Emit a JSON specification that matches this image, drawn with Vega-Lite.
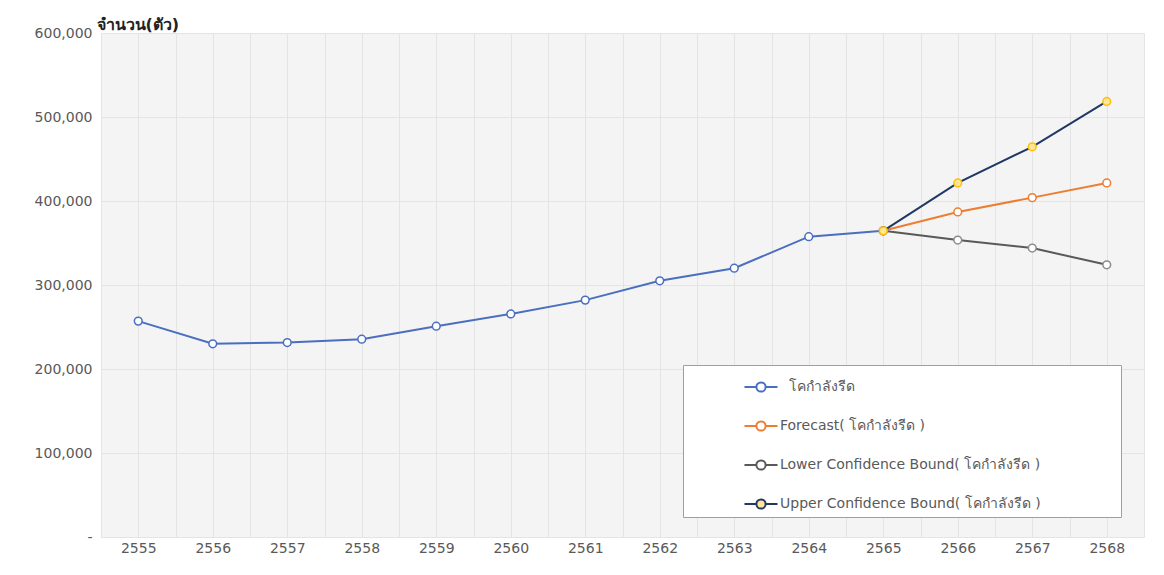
{
  "$schema": "https://vega.github.io/schema/vega-lite/v6.json",
  "autosize": "none",
  "width": 1043,
  "height": 504,
  "padding": {"left": 101, "top": 33, "right": 20, "bottom": 38},
  "background": "white",
  "config": {
    "font": "DejaVu Sans",
    "view": {"fill": "#f4f4f4", "stroke": null},
    "axis": {"labelColor": "#595959", "labelFontSize": 14, "gridColor": "#e4e4e4", "gridWidth": 1, "domain": false, "ticks": false}
  },
  "data": {
    "values": [
      {"series": "โคกำลังรีด", "year": 2555, "value": 257000},
      {"series": "โคกำลังรีด", "year": 2556, "value": 230000},
      {"series": "โคกำลังรีด", "year": 2557, "value": 231500},
      {"series": "โคกำลังรีด", "year": 2558, "value": 235500},
      {"series": "โคกำลังรีด", "year": 2559, "value": 251000},
      {"series": "โคกำลังรีด", "year": 2560, "value": 265500},
      {"series": "โคกำลังรีด", "year": 2561, "value": 282000},
      {"series": "โคกำลังรีด", "year": 2562, "value": 305000},
      {"series": "โคกำลังรีด", "year": 2563, "value": 320000},
      {"series": "โคกำลังรีด", "year": 2564, "value": 357500},
      {"series": "โคกำลังรีด", "year": 2565, "value": 364500},
      {"series": "Forecast( โคกำลังรีด )", "year": 2565, "value": 364500},
      {"series": "Forecast( โคกำลังรีด )", "year": 2566, "value": 387000},
      {"series": "Forecast( โคกำลังรีด )", "year": 2567, "value": 404000},
      {"series": "Forecast( โคกำลังรีด )", "year": 2568, "value": 421500},
      {"series": "Lower Confidence Bound( โคกำลังรีด )", "year": 2565, "value": 364500},
      {"series": "Lower Confidence Bound( โคกำลังรีด )", "year": 2566, "value": 353500},
      {"series": "Lower Confidence Bound( โคกำลังรีด )", "year": 2567, "value": 344000},
      {"series": "Lower Confidence Bound( โคกำลังรีด )", "year": 2568, "value": 324000},
      {"series": "Upper Confidence Bound( โคกำลังรีด )", "year": 2565, "value": 364500},
      {"series": "Upper Confidence Bound( โคกำลังรีด )", "year": 2566, "value": 421500},
      {"series": "Upper Confidence Bound( โคกำลังรีด )", "year": 2567, "value": 464500},
      {"series": "Upper Confidence Bound( โคกำลังรีด )", "year": 2568, "value": 518500}
    ]
  },
  "encoding": {
    "x": {
      "field": "year", "type": "quantitative",
      "scale": {"domain": [2554.5, 2568.5], "nice": false, "zero": false},
      "axis": {
        "title": null,
        "values": [2554.5, 2555, 2555.5, 2556, 2556.5, 2557, 2557.5, 2558, 2558.5, 2559, 2559.5, 2560, 2560.5, 2561, 2561.5, 2562, 2562.5, 2563, 2563.5, 2564, 2564.5, 2565, 2565.5, 2566, 2566.5, 2567, 2567.5, 2568, 2568.5],
        "labelExpr": "datum.value % 1 == 0 ? format(datum.value, 'd') : ''",
        "labelPadding": 4,
        "labelOverlap": false
      }
    },
    "y": {
      "field": "value", "type": "quantitative",
      "scale": {"domain": [0, 600000], "nice": false},
      "axis": {
        "values": [0, 100000, 200000, 300000, 400000, 500000, 600000],
        "labelExpr": "datum.value == 0 ? '-' : format(datum.value, ',')",
        "labelPadding": 9,
        "title": "จำนวน(ตัว)",
        "titleAngle": 0,
        "titleAlign": "left",
        "titleBaseline": "middle",
        "titleX": -5,
        "titleY": -9,
        "titleFontSize": 16,
        "titleFontWeight": "bold",
        "titleColor": "#222222"
      }
    }
  },
  "layer": [
    {
      "mark": {"type": "line", "strokeWidth": 2},
      "encoding": {
        "color": {
          "field": "series", "type": "nominal",
          "scale": {
            "domain": ["โคกำลังรีด", "Forecast( โคกำลังรีด )", "Lower Confidence Bound( โคกำลังรีด )", "Upper Confidence Bound( โคกำลังรีด )"],
            "range": ["#4a6fbf", "#ed7d31", "#595959", "#1f3864"]
          },
          "legend": {
            "title": null,
            "orient": "none",
            "legendX": 582,
            "legendY": 332,
            "direction": "vertical",
            "fillColor": "white",
            "strokeColor": "#8aa2c8",
            "padding": 4,
            "offset": 0,
            "rowPadding": 12,
            "symbolOffset": 56,
            "labelFontSize": 14,
            "labelColor": "#595959",
            "labelLimit": 700,
            "labelExpr": "(datum.label == 'โคกำลังรีด' ? '\u200b\u00a0\u00a0' : '') + datum.label + '\u00a0\u00a0\u00a0\u00a0\u00a0\u00a0\u00a0\u00a0\u00a0\u00a0\u00a0\u00a0\u00a0\u00a0\u00a0\u00a0\u00a0\u200b'",
            "symbolType": "M-1,0H-0.28M0.28,0H1M-0.28,0A0.28,0.28 0 1,1 0.28,0A0.28,0.28 0 1,1 -0.28,0Z",
            "symbolSize": 1090,
            "symbolStrokeWidth": 2,
            "symbolFillColor": "white",
            "labelOffset": 1,
            "encode": {
              "symbols": {"update": {"fill": {"signal": "indexof(datum.label, 'Upper') == 0 ? '#ffe699' : 'white'"}}}
            }
          }
        },
        "detail": {"field": "series"},
        "order": {"field": "year"}
      }
    },
    {
      "mark": {"type": "point", "filled": false, "size": 60, "strokeWidth": 1.5, "opacity": 1},
      "encoding": {
        "stroke": {
          "field": "series", "type": "nominal",
          "scale": {
            "domain": ["โคกำลังรีด", "Forecast( โคกำลังรีด )", "Lower Confidence Bound( โคกำลังรีด )", "Upper Confidence Bound( โคกำลังรีด )"],
            "range": ["#4a6fbf", "#ed7d31", "#8c8c8c", "#ffc000"]
          },
          "legend": null
        },
        "fill": {
          "field": "series", "type": "nominal",
          "scale": {
            "domain": ["โคกำลังรีด", "Forecast( โคกำลังรีด )", "Lower Confidence Bound( โคกำลังรีด )", "Upper Confidence Bound( โคกำลังรีด )"],
            "range": ["white", "white", "white", "#ffe699"]
          },
          "legend": null
        }
      }
    }
  ]
}
